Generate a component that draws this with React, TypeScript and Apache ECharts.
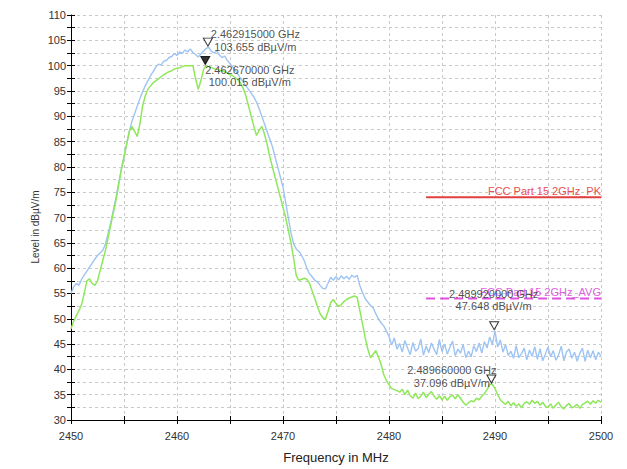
import React, { useEffect, useRef } from "react";
import * as echarts from "echarts";

// Frequency sweep (MHz): start and step of the measured trace samples
const FREQ_START = 2450;
const FREQ_STEP = 0.25;

// Peak detector trace (dBµV/m), one value per 0.25 MHz from 2450 to 2500
const peakLevels = [
  55.0, 56.3, 57.0, 56.6,
  57.8, 58.6, 59.4, 60.2,
  61.0, 61.8, 62.5, 63.0,
  63.5, 64.8, 66.8, 69.0,
  71.5, 74.0, 76.8, 79.5,
  82.0, 84.5, 87.0, 89.0,
  90.5, 92.0, 93.5, 94.8,
  96.0, 97.0, 98.0, 98.8,
  99.7, 100.3, 100.1, 100.9,
  101.0, 101.6, 101.8, 102.4,
  102.0, 102.7, 102.4, 103.1,
  102.7, 103.3, 102.6, 102.2,
  101.7, 102.3, 102.9, 103.4,
  103.6, 102.8, 102.5, 102.9,
  102.1, 101.6, 101.9, 101.0,
  100.4, 99.8, 99.0, 98.3,
  97.5, 96.8, 96.0, 95.3,
  94.5, 93.8, 92.8, 91.5,
  90.0, 88.5, 87.0, 85.5,
  84.0, 82.0, 80.0, 78.0,
  76.0, 73.0, 70.0, 67.0,
  64.8, 63.8, 63.3, 62.5,
  61.5, 60.0, 58.9, 58.3,
  57.6, 57.3, 56.6, 56.0,
  55.9, 57.0, 58.2, 57.6,
  58.3, 57.7, 58.5, 57.9,
  58.4, 57.8, 58.6, 58.2,
  58.6, 56.5, 55.2, 54.0,
  53.3, 52.6, 52.2, 51.0,
  50.0, 49.2, 48.6, 47.6,
  46.5, 44.8, 46.2, 44.0,
  45.1, 43.4, 45.7, 44.2,
  42.9, 45.3, 43.6, 44.1,
  46.0, 42.8, 44.6, 43.3,
  45.2, 44.0, 42.9, 45.9,
  43.5, 45.0, 43.0, 44.4,
  45.6, 42.7, 44.0, 43.2,
  44.9, 42.3, 43.6, 42.5,
  44.7, 43.5, 45.2, 43.2,
  45.5, 44.2, 46.4, 44.9,
  47.6, 44.4, 45.8, 43.4,
  44.9, 42.7, 43.6, 42.2,
  44.7, 42.3, 43.1, 44.2,
  41.9, 43.8, 42.6, 44.5,
  42.0, 44.1, 41.7, 43.0,
  44.4, 42.5, 43.7, 41.8,
  42.9, 44.6, 41.7, 43.5,
  44.0, 42.2, 43.4, 41.6,
  43.2, 44.2, 41.6, 43.8,
  42.3, 43.7, 41.9, 43.4,
  42.6,
];

// Average detector trace (dBµV/m)
const avgLevels = [
  48.0, 49.5, 50.6, 51.6,
  52.8, 55.0, 57.5, 57.9,
  57.0, 56.6, 57.5, 59.5,
  61.5, 63.5, 66.0, 68.5,
  71.0, 73.5, 76.5, 79.5,
  82.0, 84.5, 87.0, 88.0,
  87.0, 86.0, 88.5, 92.0,
  94.0, 95.3, 96.0, 96.6,
  97.0, 97.4, 97.8, 98.2,
  98.5, 98.8, 99.0, 99.3,
  99.5, 99.6, 99.8, 100.0,
  100.0, 100.0, 100.0, 97.5,
  95.3, 97.0, 99.2, 100.0,
  99.8, 99.6, 99.4, 99.3,
  99.1, 99.0, 98.8, 98.5,
  98.2, 98.0, 97.6, 97.2,
  96.5, 95.5, 94.0, 92.0,
  90.0, 88.0, 86.2, 87.2,
  88.0, 86.5, 84.5, 82.0,
  80.0, 78.0, 76.0, 74.0,
  72.0, 70.0, 67.5, 65.0,
  62.0, 58.5, 57.6, 57.8,
  58.0, 57.8, 57.0, 55.5,
  54.0, 52.4, 51.0, 50.2,
  49.9, 51.5, 53.2, 53.8,
  53.0, 52.4, 52.8, 53.4,
  53.8, 54.1, 54.3, 54.5,
  54.2, 51.6, 49.0, 46.3,
  44.0, 42.3, 43.0, 43.7,
  42.5, 41.0, 39.0, 37.8,
  37.0, 36.2, 36.0, 35.8,
  35.5, 36.1, 35.0, 35.9,
  34.8, 34.3, 35.3, 34.2,
  34.7, 35.5, 34.4, 35.1,
  35.6, 34.7, 34.1, 34.8,
  34.0, 34.7, 33.9, 34.6,
  34.9, 34.2, 35.0, 34.3,
  33.5, 32.9, 33.4, 33.8,
  33.6, 34.3, 34.0, 34.7,
  35.2, 36.0, 37.0, 37.1,
  36.2, 35.0, 34.0, 33.5,
  33.1, 33.7, 32.8, 33.4,
  32.7, 33.2, 32.4, 33.3,
  33.6, 33.1, 33.9, 33.3,
  33.7, 32.9, 33.5, 32.7,
  32.5, 33.2, 32.3, 33.0,
  33.5, 32.6, 32.2, 32.9,
  33.3, 32.4, 32.7, 33.1,
  32.3, 33.1, 33.4, 33.7,
  33.1, 33.8, 33.3, 33.9,
  33.5,
];

// Limit lines
const limitFreqs = [2483.5, 2500];
const limitPkLevel = 74;
const limitAvgLevel = 54;
const limitPkName = "FCC Part 15 2GHz_PK";
const limitAvgName = "FCC Part 15 2GHz_AVG";

// Markers
const markerFreqs = [2462.915, 2462.67, 2489.92, 2489.66];
const markerLevels = [103.655, 100.015, 47.648, 37.096];
const markerFilled = [false, true, false, false];
const markerTexts = [
  "2.462915000 GHz\n103.655 dBµV/m",
  "2.462670000 GHz\n100.015 dBµV/m",
  "2.489920000 GHz\n47.648 dBµV/m",
  "2.489660000 GHz\n37.096 dBµV/m",
];

// Axis settings
const X_MIN = 2450;
const X_MAX = 2500;
const X_STEP = 5;
const Y_MIN = 30;
const Y_MAX = 110;
const Y_STEP = 5;
const X_TITLE = "Frequency in MHz";
const Y_TITLE = "Level in dBµV/m";

const FONT = "'Liberation Sans', Arial, sans-serif";
const LABEL_OFFSETS: number[][] = [
  [48, -6],
  [45, 11],
  [0, -30],
  [-39, -7],
];

const GRID = { left: 71, right: 26, top: 15, bottom: 49 };
const GRID_W = 627 - GRID.left - GRID.right;
const GRID_H = 469 - GRID.top - GRID.bottom;

export default function App() {
  const ref = useRef<HTMLDivElement>(null);

  useEffect(() => {
    if (!ref.current) return;
    const chart = echarts.init(ref.current, undefined, { renderer: "svg" });

    const freqOf = (i: number) => FREQ_START + i * FREQ_STEP;
    const peakData = peakLevels.map((v, i) => [freqOf(i), v]);
    const avgData = avgLevels.map((v, i) => [freqOf(i), v]);

    const gridLine = { show: true, lineStyle: { color: "#c9c9c9", type: [3, 3] as any, width: 1 } };

    const limitSeries = (level: number, name: string, color: string, textColor: string, dashed: boolean) => ({
      type: "line",
      silent: true,
      symbol: "circle",
      symbolSize: 0.01,
      showSymbol: true,
      itemStyle: { color: "rgba(0,0,0,0)" },
      lineStyle: { color, width: 2, type: dashed ? ([9, 5] as any) : "solid" },
      z: 4,
      data: limitFreqs.map((f, i) =>
        i === limitFreqs.length - 1
          ? {
              value: [f, level],
              label: {
                show: true,
                formatter: name,
                position: "top",
                align: "right",
                distance: 1,
                color: textColor,
                fontSize: 11,
                fontFamily: FONT,
              },
            }
          : { value: [f, level] }
      ),
    });

    chart.setOption({
      animation: false,
      backgroundColor: "#ffffff",
      grid: { ...GRID, containLabel: false },
      graphic: [
        {
          type: "text",
          x: 35,
          y: 227,
          rotation: Math.PI / 2,
          silent: true,
          style: {
            text: Y_TITLE,
            fontSize: 10,
            fontFamily: FONT,
            fill: "#333",
            textAlign: "center",
            textVerticalAlign: "middle",
          },
        },
      ],
      xAxis: [
        {
          type: "value",
          min: X_MIN,
          max: X_MAX,
          interval: X_STEP,
          position: "bottom",
          axisLine: { show: true, lineStyle: { color: "#000", width: 1 } },
          axisTick: { show: true, inside: false, length: 4, lineStyle: { color: "#000" } },
          axisLabel: {
            formatter: (v: number) => (Math.round(v) % 10 === 0 ? String(Math.round(v)) : ""),
            color: "#333",
            fontSize: 11,
            fontFamily: FONT,
            margin: 10,
          },
          splitLine: gridLine,
          name: X_TITLE,
          nameLocation: "middle",
          nameGap: 31,
          nameTextStyle: { fontSize: 13, color: "#222", fontFamily: FONT },
        },
        {
          type: "value",
          min: X_MIN,
          max: X_MAX,
          interval: X_STEP,
          position: "top",
          offset: -GRID_H,
          axisLine: { show: false },
          axisTick: { show: true, inside: false, length: 4, lineStyle: { color: "#000" } },
          axisLabel: { show: false },
          splitLine: { show: false },
        },
      ],
      yAxis: [
        {
          type: "value",
          min: Y_MIN,
          max: Y_MAX,
          interval: Y_STEP,
          position: "left",
          axisLine: { show: true, lineStyle: { color: "#000", width: 1 } },
          axisTick: { show: true, inside: false, length: 4, lineStyle: { color: "#000" } },
          minorTick: { show: true, splitNumber: 2, length: 4, lineStyle: { color: "#000" } },
          axisLabel: { color: "#333", fontSize: 11, fontFamily: FONT, margin: 5 },
          splitLine: gridLine,
          minorSplitLine: gridLine,
        },
        {
          type: "value",
          min: Y_MIN,
          max: Y_MAX,
          interval: Y_STEP,
          position: "right",
          offset: -GRID_W,
          axisLine: { show: false },
          axisTick: { show: true, inside: false, length: 4, lineStyle: { color: "#000" } },
          minorTick: { show: true, splitNumber: 2, length: 4, lineStyle: { color: "#000" } },
          axisLabel: { show: false },
          splitLine: { show: false },
        },
      ],
      series: [
        {
          type: "line",
          name: "Peak",
          data: peakData,
          showSymbol: false,
          silent: true,
          lineStyle: { color: "#9ec4f4", width: 1.4 },
          z: 2,
        },
        {
          type: "line",
          name: "Average",
          data: avgData,
          showSymbol: false,
          silent: true,
          lineStyle: { color: "#8ee85a", width: 1.5 },
          z: 3,
        },
        limitSeries(limitPkLevel, limitPkName, "#e04040", "#e85050", false),
        limitSeries(limitAvgLevel, limitAvgName, "#e050e0", "#e060e0", true),
        {
          type: "scatter",
          silent: true,
          symbol: "triangle",
          symbolRotate: 180,
          symbolSize: [9, 8],
          symbolOffset: [0, -5],
          z: 6,
          data: markerFreqs.map((f, i) => ({
            value: [f, markerLevels[i]],
            itemStyle: {
              color: markerFilled[i] ? "#000" : "#fff",
              borderColor: "#000",
              borderWidth: 1,
            },
          })),
        },
        {
          type: "scatter",
          silent: true,
          symbol: "circle",
          symbolSize: 1,
          itemStyle: { color: "rgba(0,0,0,0)" },
          z: 7,
          data: markerFreqs.map((f, i) => ({
            value: [f, markerLevels[i]],
            label: {
              show: true,
              formatter: markerTexts[i],
              position: LABEL_OFFSETS[i],
              align: "center",
              verticalAlign: "middle",
              fontSize: 11,
              lineHeight: 12.5,
              color: "#222",
              fontFamily: FONT,
            },
          })),
        },
      ],
    });

    return () => chart.dispose();
  }, []);

  return (
    <div
      ref={ref}
      style={{ position: "fixed", left: 0, top: 0, width: 627, height: 469, background: "#fff" }}
    />
  );
}
